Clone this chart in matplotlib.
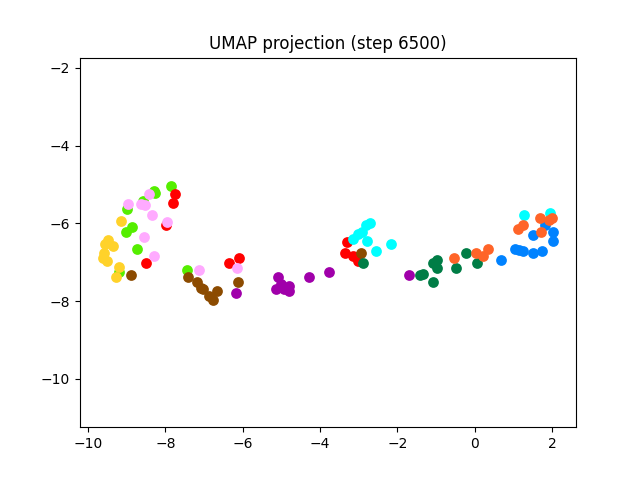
import matplotlib
matplotlib.use("Agg")
import matplotlib.pyplot as plt

# UMAP embedding points, one group per class (x, y)
green_x = [-7.86, -8.29, -8.27, -8.58, -8.99, -8.86, -9.02, -8.73, -9.20, -7.44]
green_y = [-5.05, -5.17, -5.23, -5.43, -5.64, -6.10, -6.23, -6.67, -7.26, -7.19]

red_x = [-7.75, -7.80, -7.98, -8.50, -6.36, -6.10, -3.31, -3.36, -3.15, -3.02]
red_y = [-5.25, -5.48, -6.03, -7.03, -7.03, -6.88, -6.49, -6.75, -6.83, -6.98]

pink_x = [-8.42, -8.63, -8.53, -8.97, -8.35, -7.96, -8.55, -8.29, -7.13, -6.15]
pink_y = [-5.25, -5.51, -5.54, -5.51, -5.79, -5.97, -6.36, -6.85, -7.19, -7.16]

yellow_x = [-9.15, -9.48, -9.56, -9.35, -9.59, -9.61, -9.51, -9.20, -9.28]
yellow_y = [-5.95, -6.44, -6.52, -6.57, -6.75, -6.88, -6.98, -7.11, -7.39]

brown_x = [-8.89, -7.42, -7.18, -7.08, -7.03, -6.87, -6.77, -6.67, -6.12, -2.95]
brown_y = [-7.32, -7.37, -7.52, -7.65, -7.70, -7.86, -7.96, -7.75, -7.52, -6.75]

purple_x = [-6.18, -5.09, -5.01, -4.81, -5.14, -4.94, -4.81, -4.29, -3.77, -1.71]
purple_y = [-7.78, -7.37, -7.55, -7.60, -7.70, -7.68, -7.75, -7.39, -7.26, -7.34]

dgreen_x = [-2.89, -1.42, -1.34, -1.09, -1.09, -0.98, -0.98, -0.49, -0.23, 0.05]
dgreen_y = [-7.03, -7.32, -7.29, -7.50, -7.03, -6.95, -7.14, -7.14, -6.77, -7.03]

cyan_x = [-2.71, -2.82, -2.92, -3.02, -3.15, -2.79, -2.17, -2.56, 1.27, 1.96]
cyan_y = [-6.00, -6.05, -6.23, -6.28, -6.41, -6.46, -6.52, -6.72, -5.79, -5.74]

blue_x = [0.67, 1.81, 1.52, 2.02, 2.02, 1.03, 1.14, 1.24, 1.50, 1.73]
blue_y = [-6.93, -6.05, -6.31, -6.23, -6.46, -6.65, -6.68, -6.72, -6.75, -6.70]

orange_x = [-0.54, 0.03, 0.21, 0.34, 1.24, 1.11, 1.68, 1.91, 1.99, 1.71]
orange_y = [-6.90, -6.77, -6.83, -6.65, -6.03, -6.15, -5.87, -5.92, -5.85, -6.23]

groups = [
    (green_x, green_y, '#55ee00'),
    (red_x, red_y, '#ff0000'),
    (pink_x, pink_y, '#ffaaff'),
    (yellow_x, yellow_y, '#ffd22a'),
    (brown_x, brown_y, '#8c4b00'),
    (purple_x, purple_y, '#a000aa'),
    (dgreen_x, dgreen_y, '#007d46'),
    (cyan_x, cyan_y, '#00ffff'),
    (blue_x, blue_y, '#0082ff'),
    (orange_x, orange_y, '#ff6428'),
]

fig, ax = plt.subplots(figsize=(6.4, 4.8), dpi=100)
for xs, ys, c in groups:
    ax.scatter(xs, ys, s=60, c=c, linewidths=0)

ax.set_xlim(-10.21, 2.62)
ax.set_ylim(-11.24, -1.74)
ax.set_title('UMAP projection (step 6500)')

plt.savefig('out.png')
plt.close()
